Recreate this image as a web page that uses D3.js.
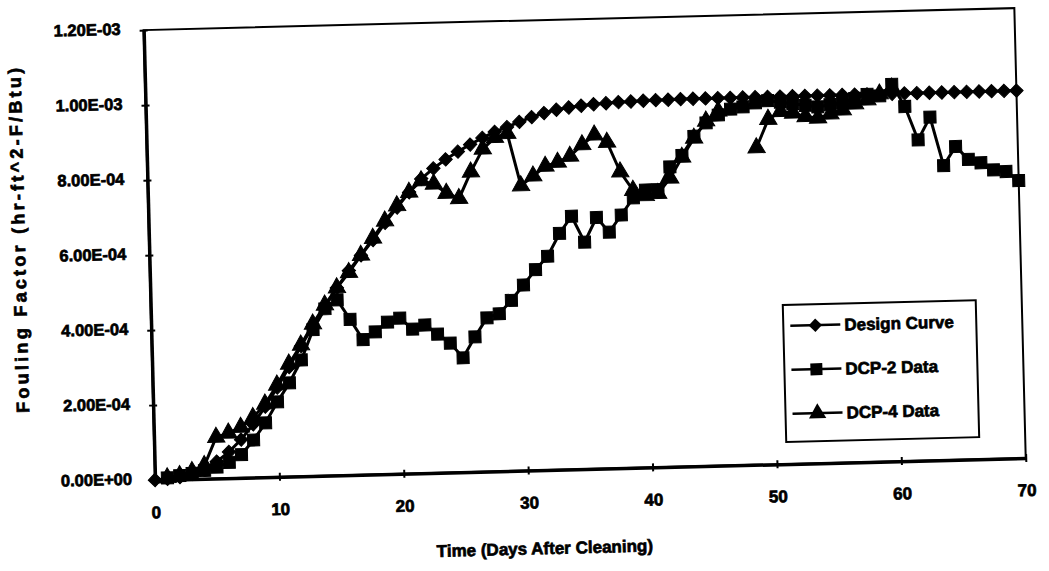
<!DOCTYPE html>
<html>
  <head>
    <meta charset='utf-8'>
    <script src='https://d3js.org/d3.v7.min.js'></script>
    <style>
body {
  margin: 0;
  background: #fff;
  font-family: 'Liberation Sans', Arial, sans-serif;
}
text {
  font-weight: bold;
  fill: #000;
  stroke: #000;
  stroke-width: 0.7px;
}
    </style>
  </head>
  <body>
    <svg id='chart' width='1049' height='571'></svg>
    <script>
// fouling factor values are in units of 1e-4 (hr-ft^2-F/Btu)
var designDays = d3.range(0, 71);
var designCurve = [
  0.00, 0.02, 0.06, 0.14, 0.27, 0.45, 0.70, 1.02, 1.42, 1.88,
  2.38, 2.92, 3.47, 4.00, 4.50, 5.00, 5.45, 5.85, 6.25, 6.70,
  7.10, 7.50, 7.85, 8.12, 8.35, 8.55, 8.73, 8.90, 9.05, 9.17,
  9.30, 9.42, 9.52, 9.60, 9.65, 9.69, 9.72, 9.74, 9.76, 9.77,
  9.78, 9.79, 9.79, 9.80, 9.80, 9.80, 9.80, 9.80, 9.80, 9.80,
  9.80, 9.80, 9.80, 9.80, 9.80, 9.80, 9.80, 9.80, 9.80, 9.80,
  9.80, 9.80, 9.80, 9.80, 9.80, 9.80, 9.80, 9.80, 9.80, 9.80,
  9.80
];

var dcp2Days = d3.range(1, 71);
var dcp2Data = [
  0.05, 0.10, 0.15, 0.22, 0.30, 0.42, 0.62, 1.00, 1.45, 2.00,
  2.50, 3.10, 3.90, 4.45, 4.68, 4.15, 3.60, 3.80, 4.05, 4.15,
  3.85, 3.95, 3.70, 3.45, 3.05, 3.60, 4.10, 4.20, 4.55, 4.95,
  5.35, 5.70, 6.30, 6.75, 6.05, 6.70, 6.30, 6.75, 7.20, 7.40,
  7.40, 8.00, 8.30, 8.80, 9.15, 9.35, 9.50, 9.55, 9.65, 9.70,
  9.65, 9.60, 9.55, 9.50, 9.55, 9.60, 9.70, 9.80, 9.75, 10.05,
  9.45, 8.55, 9.15, 7.85, 8.35, 8.00, 7.90, 7.70, 7.65, 7.40
];

var dcp4Days = d3.range(1, 61);
var dcp4Data = [
  0.05, 0.10, 0.20, 0.35, 1.10, 1.20, 1.35, 1.60, 1.95, 2.45,
  3.00, 3.50, 4.05, 4.55, 5.00, 5.40, 5.85, 6.30, 6.75, 7.15,
  7.50, 7.80, 7.70, 7.45, 7.30, 8.00, 8.60, 8.90, 9.00, 7.60,
  7.85, 8.10, 8.20, 8.35, 8.65, 8.90, 8.70, 7.90, 7.40, 7.25,
  7.30, 7.70, 8.25, 8.75, 9.20, 9.45, null, null, 8.45, 9.20,
  9.40, 9.35, 9.25, 9.20, 9.30, 9.40, 9.55, 9.65, 9.80, 9.95
];

var xTicks = [0, 10, 20, 30, 40, 50, 60, 70];
var yTicks = [0, 2, 4, 6, 8, 10, 12];
var seriesNames = ['Design Curve', 'DCP-2 Data', 'DCP-4 Data'];

// the scanned page is tilted a little, so the whole chart is rotated
var svg = d3.select('#chart');
var g = svg.append('g').attr('transform', 'rotate(-1.45,155,480)');

var x = d3.scaleLinear().domain([0, 70]).range([155, 1026]);
var y = d3.scaleLinear().domain([0, 12]).range([480, 30]);

function fmtE(v) {
  var val = v * 1e-4;
  if (val === 0) return '0.00E+00';
  var e = Math.floor(Math.log10(val) + 1e-9);
  var m = val / Math.pow(10, e);
  var ex = Math.abs(e);
  return m.toFixed(2) + 'E' + (e < 0 ? '-' : '+') + (ex < 10 ? '0' + ex : ex);
}

// plot frame
g.append('rect')
  .attr('x', x(0))
  .attr('y', y(12))
  .attr('width', x(70) - x(0))
  .attr('height', y(0) - y(12))
  .style('fill', 'none')
  .style('stroke', 'black')
  .style('stroke-width', 2);

var xAxis = g.append('g')
  .attr('transform', 'translate(0,' + y(0) + ')')
  .call(d3.axisBottom(x).tickValues(xTicks).tickSize(4).tickSizeOuter(0).tickPadding(22));
xAxis.select('.domain').style('stroke-width', 3.5);
xAxis.selectAll('.tick line').attr('y1', -4).style('stroke-width', 2);
xAxis.selectAll('.tick text')
  .attr('font-size', 17)
  .attr('font-family', "'Liberation Sans', Arial, sans-serif");

var yAxis = g.append('g')
  .attr('transform', 'translate(' + x(0) + ',0)')
  .call(d3.axisLeft(y).tickValues(yTicks).tickSize(4).tickSizeOuter(0).tickPadding(19).tickFormat(fmtE));
yAxis.select('.domain').style('stroke-width', 3.5);
yAxis.selectAll('.tick line').attr('x1', 4).style('stroke-width', 2);
yAxis.selectAll('.tick text')
  .attr('dy', '0.22em')
  .attr('font-size', 16.5)
  .attr('font-family', "'Liberation Sans', Arial, sans-serif");

// axis titles
g.append('text')
  .attr('x', 543)
  .attr('y', 564)
  .attr('text-anchor', 'middle')
  .attr('font-size', 17)
  .text('Time (Days After Cleaning)');

g.append('text')
  .attr('transform', 'translate(31,237) rotate(-90)')
  .attr('text-anchor', 'middle')
  .attr('font-size', 18)
  .attr('textLength', 345)
  .attr('lengthAdjust', 'spacing')
  .text('Fouling Factor (hr-ft^2-F/Btu)');

// series
var series = [
  { days: designDays, vals: designCurve, sym: d3.symbol(d3.symbolSquare, 90), rot: 45 },
  { days: dcp2Days, vals: dcp2Data, sym: d3.symbol(d3.symbolSquare, 144), rot: 0 },
  { days: dcp4Days, vals: dcp4Data, sym: d3.symbol(d3.symbolTriangle, 130), rot: 0 }
];

var line = d3.line()
  .defined(function(d) { return d.v != null; })
  .x(function(d) { return x(d.t); })
  .y(function(d) { return y(d.v); });

series.slice().reverse().forEach(function(s) {
  var pts = s.days.map(function(t, i) { return { t: t, v: s.vals[i] }; });
  g.append('path')
    .datum(pts)
    .attr('d', line)
    .style('fill', 'none')
    .style('stroke', 'black')
    .style('stroke-width', 3);
  g.append('g').selectAll('path')
    .data(pts.filter(function(d) { return d.v != null; }))
    .join('path')
    .attr('d', s.sym)
    .attr('transform', function(d) {
      return 'translate(' + x(d.t) + ',' + y(d.v) + ') rotate(' + s.rot + ')';
    })
    .style('fill', 'black')
    .style('stroke', 'black')
    .style('stroke-width', 1);
});

// legend
var legend = g.append('g');
legend.append('rect')
  .attr('x', 787)
  .attr('y', 321)
  .attr('width', 193)
  .attr('height', 137)
  .style('fill', 'white')
  .style('stroke', 'black')
  .style('stroke-width', 2);

seriesNames.forEach(function(name, i) {
  var ly = 342 + i * 44;
  legend.append('line')
    .attr('x1', 794).attr('x2', 844)
    .attr('y1', ly).attr('y2', ly)
    .style('stroke', 'black')
    .style('stroke-width', 2.5);
  legend.append('path')
    .attr('d', series[i].sym)
    .attr('transform', 'translate(819,' + ly + ') rotate(' + series[i].rot + ')')
    .style('fill', 'black');
  legend.append('text')
    .attr('x', 848)
    .attr('y', ly)
    .attr('dy', '0.35em')
    .attr('font-size', 17)
    .text(name);
});
    </script>
  </body>
</html>
